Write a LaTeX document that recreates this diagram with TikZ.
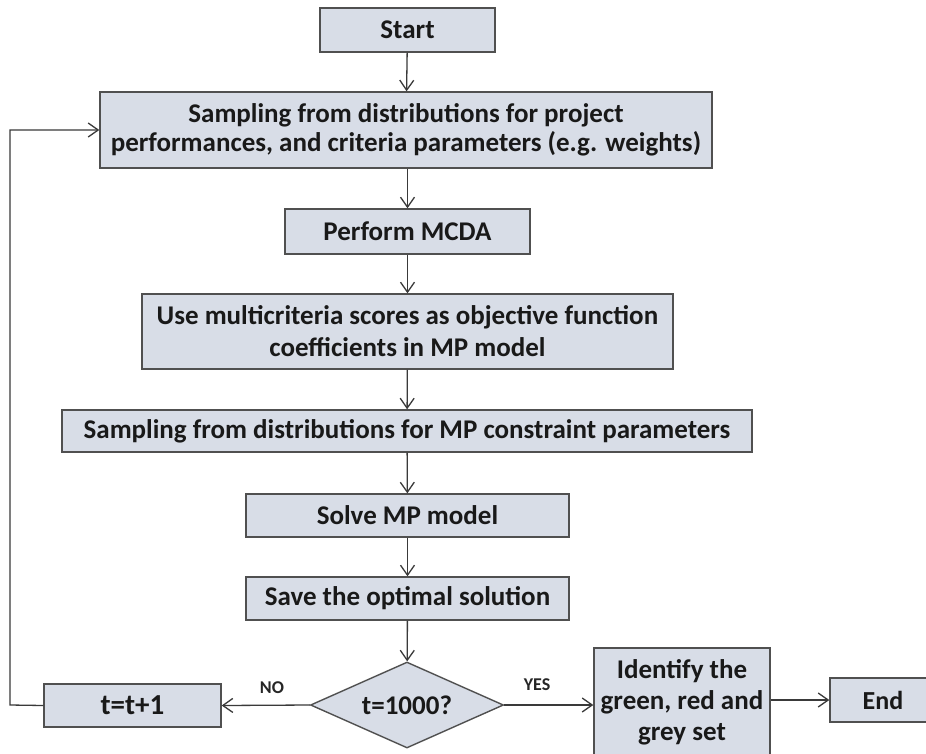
\documentclass[tikz,border=0pt]{standalone}
\usepackage{fontspec}
\setmainfont{Carlito}
\usetikzlibrary{arrows.meta,shapes.geometric}
\definecolor{boxfill}{HTML}{D8DDE7}
\definecolor{boxline}{HTML}{505050}
\definecolor{wire}{HTML}{3A3A3A}
\tikzset{
  stepbox/.style={draw=boxline, fill=boxfill, line width=1.4pt, inner sep=0pt,
    align=center, font=\bfseries\fontsize{27}{29}\selectfont, text=black!90},
  decide/.style={diamond, draw=boxline, fill=boxfill, line width=1.4pt, inner sep=0pt,
    aspect=2.2, font=\bfseries\fontsize{27}{29}\selectfont, text=black!90},
  flow/.style={draw=wire, line width=1.3pt, -{Straight Barb[length=10pt,width=14pt,line width=1.3pt]}},
  tag/.style={font=\bfseries\fontsize{18}{20}\selectfont, text=black!85}
}
\begin{document}
\begin{tikzpicture}[x=1pt,y=-1pt]
\useasboundingbox (0,0) rectangle (926,753);
\fill[white] (0,0) rectangle (926,753);

\node[stepbox, minimum width=175pt, minimum height=44pt] (start) at (407.5,30) {Start};
\node[stepbox, minimum width=612pt, minimum height=76pt] (samp) at (406,130)
  {Sampling from distributions for project\\performances, and criteria parameters (e.g. weights)};
\node[stepbox, minimum width=245pt, minimum height=45pt] (mcda) at (407.5,231.5) {Perform MCDA};
\node[stepbox, minimum width=531pt, minimum height=75pt,
  font=\bfseries\fontsize{27}{32}\selectfont] (use) at (407.5,331.5)
  {Use multicriteria scores as objective function\\coefficients in MP model};
\node[stepbox, minimum width=690pt, minimum height=42pt] (mp) at (407,431)
  {Sampling from distributions for MP constraint parameters};
\node[stepbox, minimum width=323pt, minimum height=43pt] (solve) at (407.5,515.5) {Solve MP model};
\node[stepbox, minimum width=323pt, minimum height=43pt] (save) at (407.5,598.5) {Save the optimal solution};
\node[decide, minimum width=193pt, minimum height=86pt] (test) at (407,705) {t=1000?};
\node[stepbox, minimum width=177pt, minimum height=43pt,
  font=\bfseries\fontsize{29}{30}\selectfont] (inc) at (132.5,705.5) {t=t+1};
\node[stepbox, minimum width=176pt, minimum height=108pt,
  font=\bfseries\fontsize{27}{31}\selectfont] (ident) at (682,702)
  {Identify the\\green, red and\\grey set};
\node[stepbox, minimum width=106pt, minimum height=44pt,
  font=\bfseries\fontsize{26}{28}\selectfont] (end) at (883,700) {End};

\draw[flow] (start) -- (samp);
\draw[flow] (samp.south -| mcda) -- (mcda);
\draw[flow] (mcda) -- (use);
\draw[flow] (use) -- (mp);
\draw[flow] (mp) -- (solve);
\draw[flow] (solve) -- (save);
\draw[flow] (save) -- (test);
\draw[flow] (test.west) -- (inc.east);
\draw[flow] (test.east) -- (test.east -| ident.west);
\draw[flow] (end.west -| ident.east) -- (end.west);
\coordinate (loop) at (10,705);
\draw[flow] (inc.west) -- (loop) -- (loop |- samp.west) -- (samp.west);

\node[tag] (no) at (272,688) {NO};
\node[tag] (yes) at (537,685) {YES};
\end{tikzpicture}
\end{document}
